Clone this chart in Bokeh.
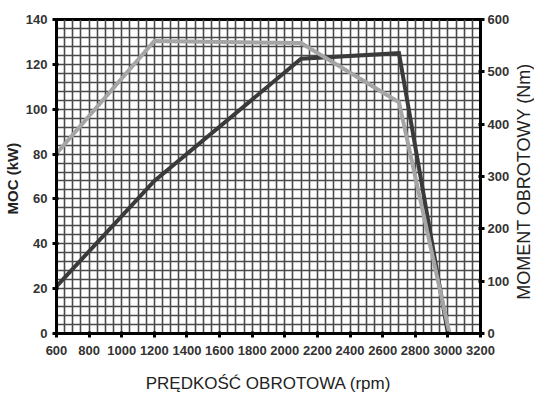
import math
from bokeh.plotting import figure
from bokeh.layouts import row
from bokeh.models import Range1d, LinearAxis, SingleIntervalTicker, Label
from bokeh.embed import file_html
from bokeh.resources import INLINE

# Data
rpm_power = [600, 1200, 2100, 2700, 3000]
power_kw = [21, 68, 122.5, 125, 0]

rpm_torque = [600, 1200, 2100, 2700, 3010]
torque_nm = [344, 559, 555, 442, 0]

x_label = "PRĘDKOŚĆ OBROTOWA (rpm)"
y_left_label = "MOC  (kW)"
y_right_label = "MOMENT  OBROTOWY  (Nm)"

FONT = "Liberation Sans"

p = figure(frame_width=424, frame_height=314, output_backend="svg", toolbar_location=None,
           x_range=Range1d(600, 3200), y_range=Range1d(0, 140),
           min_border_left=49, min_border_right=30, min_border_top=19, min_border_bottom=0)
p.extra_y_ranges = {"torque": Range1d(0, 600)}

# grid
p.xgrid.ticker = SingleIntervalTicker(interval=50, num_minor_ticks=0)
p.ygrid.ticker = SingleIntervalTicker(interval=4, num_minor_ticks=0)
for g in (p.xgrid, p.ygrid):
    g.grid_line_color = "#4a4a4a"
    g.grid_line_width = 1.6

p.outline_line_color = "black"
p.outline_line_width = 3

def style_axis(ax):
    ax.axis_line_color = "black"
    ax.axis_line_width = 3
    ax.major_tick_line_color = "black"
    ax.major_tick_line_width = 3
    ax.major_tick_out = 4
    ax.major_tick_in = 2
    ax.minor_tick_line_color = None
    ax.major_label_text_font = FONT
    ax.major_label_text_font_style = "bold"
    ax.major_label_text_font_size = "13px"
    ax.major_label_text_color = "#333333"
    ax.axis_label_text_font = FONT
    ax.axis_label_text_color = "#222222"

xa = p.xaxis[0]
xa.ticker = SingleIntervalTicker(interval=200, num_minor_ticks=0)
style_axis(xa)
xa.major_label_standoff = 8
xa.axis_label = x_label
xa.axis_label_text_font_size = "17px"
xa.axis_label_text_font_style = "normal"
xa.axis_label_standoff = 16

ya = p.yaxis[0]
ya.ticker = SingleIntervalTicker(interval=20, num_minor_ticks=0)
style_axis(ya)
ya.major_label_standoff = 5
ya.axis_label = y_left_label
ya.axis_label_text_font_size = "15px"
ya.axis_label_text_font_style = "bold"
ya.axis_label_standoff = 2

ra = LinearAxis(y_range_name="torque")
ra.ticker = SingleIntervalTicker(interval=100, num_minor_ticks=0)
style_axis(ra)
ra.major_label_standoff = 3
p.add_layout(ra, "right")

p.line(rpm_power, power_kw, line_color="#3a3a3a", line_width=4, line_join="miter")
p.line(rpm_torque, torque_nm, y_range_name="torque", line_color="#a5a5a5", line_width=4, line_join="miter")

# narrow strip holding the right-hand axis title (reads bottom-to-top)
p2 = figure(frame_width=22, frame_height=314, output_backend="svg", toolbar_location=None,
            x_range=Range1d(0, 1), y_range=Range1d(0, 1), x_axis_type=None, y_axis_type=None,
            min_border_left=0, min_border_right=0, min_border_top=19, min_border_bottom=0)
p2.grid.visible = False
p2.outline_line_color = None
p2.add_layout(Label(x=0.5, y=0.5, text=y_right_label, angle=math.pi / 2,
                    text_align="center", text_baseline="middle", text_font=FONT,
                    text_font_size="18px", text_color="#222222"))

layout = row(p, p2)
open("out.html", "w").write(file_html(layout, INLINE))
